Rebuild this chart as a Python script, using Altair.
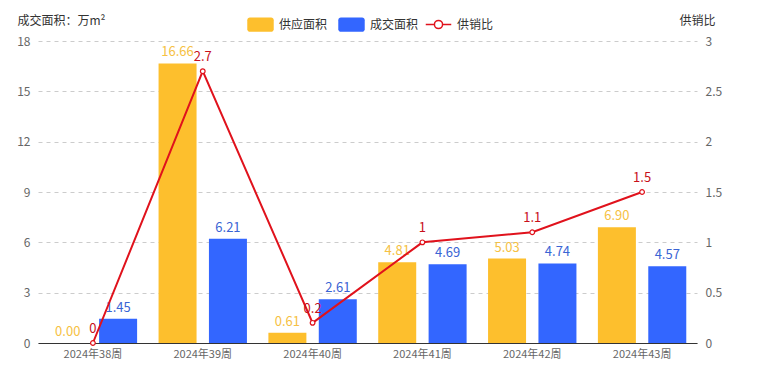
import altair as alt
import pandas as pd

weeks = ["2024年38周", "2024年39周", "2024年40周", "2024年41周", "2024年42周", "2024年43周"]
supply = [0.00, 16.66, 0.61, 4.81, 5.03, 6.90]
deal = [1.45, 6.21, 2.61, 4.69, 4.74, 4.57]
ratio = [0, 2.7, 0.2, 1, 1.1, 1.5]
series_names = ["供应面积", "成交面积"]
line_name = "供销比"
left_ticks = [0, 3, 6, 9, 12, 15, 18]
right_ticks = [0, 0.5, 1, 1.5, 2, 2.5, 3]

bar_colors = ["#FDBF2D", "#3366FF"]
label_colors = ["#F6C143", "#3A64D4"]
line_color = "#E0121C"
FONT = "Noto Sans CJK SC"

bars_df = pd.DataFrame({
    "week": weeks * 2,
    "series": [series_names[0]] * len(weeks) + [series_names[1]] * len(weeks),
    "value": supply + deal,
})
line_df = pd.DataFrame({
    "week": weeks,
    "ratio": ratio,
    "series": [line_name] * len(weeks),
    "label": [f"{r:g}" for r in ratio],
})

x = alt.X("week:N", sort=weeks,
          scale=alt.Scale(paddingInner=0, paddingOuter=0),
          axis=alt.Axis(title=None, labelAngle=0, ticks=False, domainColor="#333333",
                        labelColor="#666666", labelFontSize=11, labelFont=FONT,
                        labelPadding=5, grid=False))
xoff = alt.XOffset("series:N", sort=series_names,
                   scale=alt.Scale(domain=series_names, paddingInner=0.24, paddingOuter=0.21))

yL = alt.Y("value:Q", scale=alt.Scale(domain=[0, 18], nice=False),
           axis=alt.Axis(values=left_ticks, title="成交面积：万m²", titleAngle=0,
                         titleX=-21, titleY=-21, titleAlign="left", titleBaseline="middle",
                         titleFont=FONT, titleFontSize=12, titleFontWeight="normal",
                         titleColor="#333333", labelColor="#666666", labelFontSize=12,
                         labelFont=FONT, labelPadding=8, domain=False, ticks=False,
                         grid=True, gridDash=[4, 4], gridColor="#CCCCCC"))

rect_path = ("M-0.8,-0.54 H0.8 A0.2,0.2 0 0 1 1,-0.34 V0.34 A0.2,0.2 0 0 1 0.8,0.54 "
             "H-0.8 A0.2,0.2 0 0 1 -1,0.34 V-0.34 A0.2,0.2 0 0 1 -0.8,-0.54 Z")
line_path = ("M-1,0 H-0.32 M0.32,0 H1 M0.32,0 A0.32,0.32 0 1 1 -0.32,0 "
             "A0.32,0.32 0 1 1 0.32,0")

bars = alt.Chart(bars_df).mark_bar(size=38).encode(
    x=x, xOffset=xoff, y=yL,
    color=alt.Color("series:N", sort=series_names,
                    scale=alt.Scale(domain=series_names, range=bar_colors),
                    legend=alt.Legend(title=None, orient="none", direction="horizontal",
                                      legendX=209, legendY=-30, symbolType=rect_path,
                                      symbolSize=700, symbolStrokeWidth=0, labelFont=FONT,
                                      labelFontSize=12, labelColor="#333333",
                                      labelOffset=5, columnPadding=10)),
)

text_layers = []
for name, col in zip(series_names, label_colors):
    text_layers.append(
        alt.Chart(bars_df).transform_filter(alt.datum.series == name)
        .mark_text(dy=-11, fontSize=13, font=FONT, color=col)
        .encode(x=x, xOffset=xoff, y=yL, text=alt.Text("value:Q", format=".2f"))
    )

left = alt.layer(bars, *text_layers)

yR = alt.Y("ratio:Q", scale=alt.Scale(domain=[0, 3], nice=False),
           axis=alt.Axis(values=right_ticks, format="~g", orient="right", title="供销比",
                         titleAngle=0, titleX=0, titleY=-21, titleAlign="center",
                         titleBaseline="middle", titleFont=FONT, titleFontSize=12,
                         titleFontWeight="normal", titleColor="#333333",
                         labelColor="#666666", labelFontSize=12, labelFont=FONT,
                         labelPadding=8, domain=False, ticks=False, grid=False))

line = alt.Chart(line_df).mark_line(strokeWidth=2).encode(
    x=x, y=yR,
    stroke=alt.Stroke("series:N", scale=alt.Scale(domain=[line_name], range=[line_color]),
                      legend=alt.Legend(title=None, orient="none", legendX=387, legendY=-30,
                                        symbolType=line_path, symbolSize=650,
                                        symbolFillColor="white", symbolStrokeWidth=1.5,
                                        labelFont=FONT, labelFontSize=12,
                                        labelColor="#333333", labelOffset=5)),
)
points = alt.Chart(line_df).mark_point(filled=True, fill="white", stroke=line_color,
                                       strokeWidth=1.2, size=22, opacity=1).encode(x=x, y=yR)
ratio_text = alt.Chart(line_df).mark_text(dy=-14, fontSize=13, font=FONT, color="#C8101A").encode(
    x=x, y=yR, text="label:N")

right = alt.layer(line, points, ratio_text)

chart = alt.layer(left, right).resolve_scale(y="independent").properties(
    width=659, height=302,
    background="white",
    autosize=alt.AutoSizeParams(type="none"),
    padding={"left": 30, "top": 33, "right": 53, "bottom": 23},
).configure_view(strokeWidth=0, stroke="transparent")

chart.save("out.html", embed_options={"renderer": "svg", "actions": False})
